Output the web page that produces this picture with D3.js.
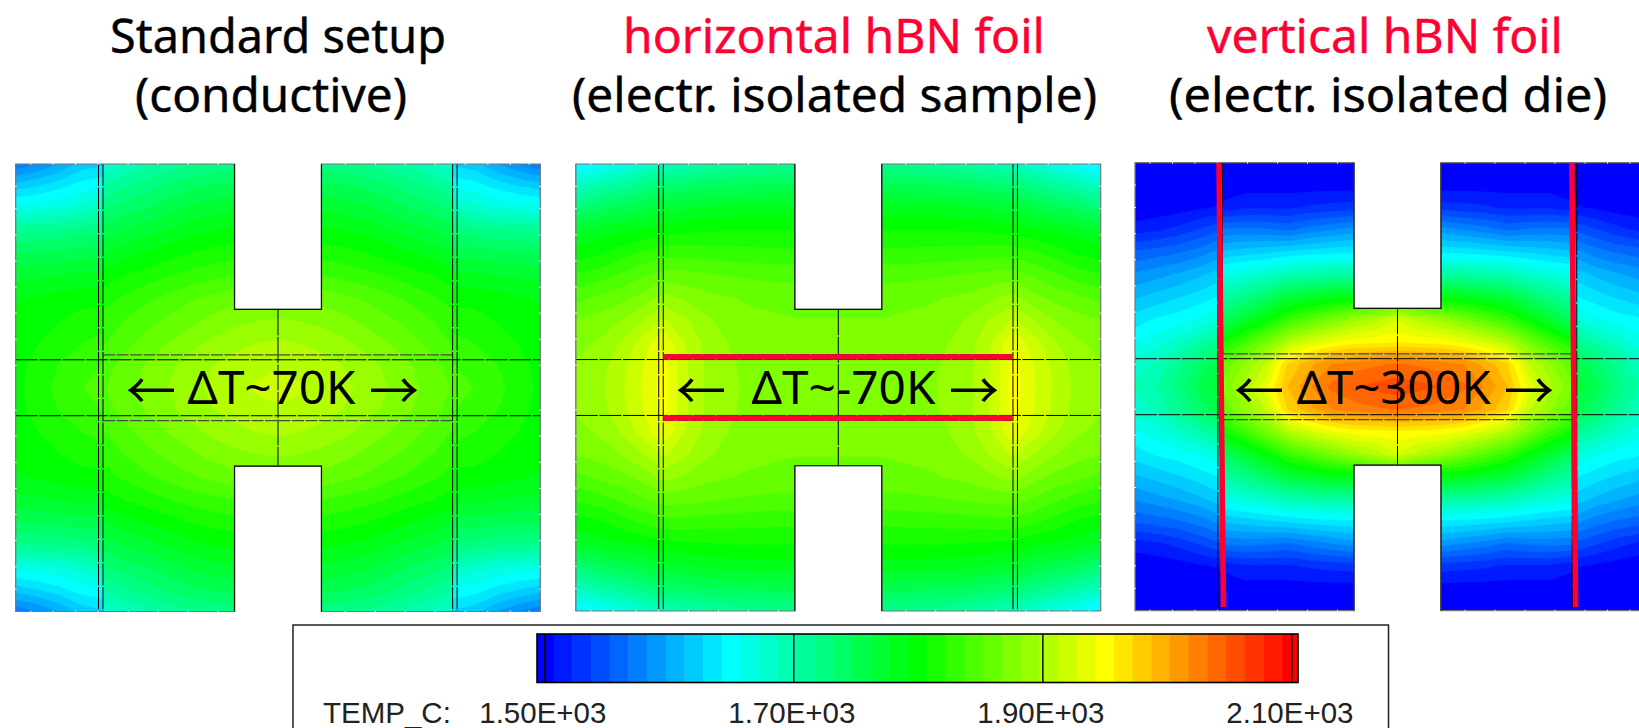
<!DOCTYPE html>
<html>
<head>
<meta charset="utf-8">
<script src="https://cdn.jsdelivr.net/npm/d3@7"></script>
<style>
  html, body { margin: 0; padding: 0; background: #fff; overflow: hidden; }
  svg { display: block; }
  text { fill: #000; }
</style>
</head>
<body>
<script>
/////////////////////////////////////////////////
// data - temperature in deg C
// one quarter of each specimen, rows go top edge -> centre,
// columns go outer edge -> centre (the other quarters are mirrored)
// column 4 sits on the die/sample interface, its value here is the inner
// side, the ...Outer arrays hold the outer side where the field jumps
/////////////////////////////////////////////////
var standardTemp = [
  [1570,1582,1597,1618,1675,1688,1698,1708,1715,1720,1722,1724,1724],
  [1620,1628,1638,1650,1705,1716,1726,1736,1744,1750,1752,1754,1754],
  [1665,1668,1672,1680,1730,1740,1748,1758,1766,1772,1775,1776,1776],
  [1715,1718,1720,1726,1755,1764,1772,1780,1788,1793,1796,1798,1798],
  [1748,1750,1752,1756,1778,1786,1794,1801,1808,1813,1816,1818,1818],
  [1772,1775,1778,1782,1800,1808,1815,1822,1828,1833,1838,1842,1845],
  [1790,1794,1798,1802,1816,1825,1834,1842,1850,1856,1862,1866,1868],
  [1797,1802,1807,1813,1828,1838,1848,1856,1864,1872,1878,1882,1884],
  [1800,1807,1814,1822,1836,1848,1858,1868,1877,1886,1892,1897,1900],
  [1802,1813,1823,1833,1846,1858,1869,1879,1889,1897,1905,1909,1911],
  [1803,1816,1827,1837,1851,1861,1873,1883,1893,1901,1909,1914,1917]
];
var standardOuter = [1625,1655,1692,1728,1758,1782,1802,1816,1828,1838,1843];

var horizontalTemp = [
  [1640,1650,1660,1675,1688,1695,1702,1708,1712,1715,1716,1716,1716],
  [1685,1700,1710,1722,1735,1740,1745,1748,1750,1752,1753,1753,1753],
  [1730,1745,1752,1760,1772,1775,1780,1783,1785,1786,1786,1786,1786],
  [1775,1785,1790,1795,1802,1805,1806,1808,1808,1808,1808,1808,1808],
  [1800,1805,1815,1825,1832,1832,1830,1829,1828,1827,1826,1826,1826],
  [1825,1830,1840,1850,1860,1858,1855,1852,1850,1848,1848,1848,1848],
  [1848,1855,1862,1872,1888,1880,1872,1868,1865,1863,1862,1862,1862],
  [1868,1873,1882,1896,1915,1900,1885,1876,1872,1870,1868,1868,1868],
  [1878,1884,1898,1918,1940,1912,1892,1882,1876,1874,1872,1872,1872],
  [1884,1890,1906,1926,1948,1915,1894,1885,1878,1875,1874,1873,1873],
  [1886,1892,1908,1928,1950,1915,1894,1886,1879,1876,1875,1874,1874]
];

var verticalTemp = [
  [1490,1490,1490,1490,1490,1490,1490,1490,1490,1490,1490,1490,1490],
  [1490,1490,1492,1495,1495,1500,1500,1500,1500,1500,1500,1500,1500],
  [1495,1497,1500,1505,1512,1520,1520,1520,1525,1528,1530,1532,1532],
  [1515,1520,1528,1540,1570,1572,1570,1565,1575,1582,1590,1592,1592],
  [1555,1560,1566,1575,1615,1620,1625,1630,1635,1638,1640,1640,1640],
  [1585,1592,1600,1610,1665,1672,1682,1695,1700,1705,1705,1708,1708],
  [1610,1618,1626,1635,1705,1720,1742,1765,1775,1785,1790,1800,1810],
  [1635,1645,1650,1660,1745,1770,1798,1830,1850,1870,1890,1905,1925],
  [1655,1665,1682,1700,1805,1835,1868,1905,1925,1940,1950,1952,1955],
  [1680,1690,1715,1740,1855,1885,1915,1975,1998,2018,2025,2030,2034],
  [1690,1702,1725,1755,1870,1900,1938,1988,2016,2036,2047,2052,2056]
];
var verticalOuter = [1490,1497,1510,1552,1590,1622,1645,1675,1720,1760,1772];

var titleTop    = ["Standard setup", "horizontal hBN foil", "vertical hBN foil"];
var titleBottom = ["(conductive)", "(electr. isolated sample)", "(electr. isolated die)"];
var deltaLabels = ["\u0394T~70K", "\u0394T~-70K", "\u0394T~300K"];

var legendName   = "TEMP_C:";
var legendValues = [1500, 1700, 1900, 2100];
var legendLabels = ["1.50E+03", "1.70E+03", "1.90E+03", "2.10E+03"];

// rainbow stops of the colour bar
var colorStops = [1500, 1650, 1800, 1950, 2100];
var colorNames = ["#0000ff", "#00ffff", "#00ff00", "#ffff00", "#ff0000"];

// specimen geometry in mm, measured from the centre
var notchHalfWidth  = 5.8,
    notchHalfHeight = 10.5;
var interfaceX      = 23.35;
var meshVertical    = [-23.95, -23.35, 23.3, 23.9];
var meshHorizontal  = [-3.75, 3.75];
var ghostHorizontal = [-4.4, 4.4];
var edgeTicksX = [-33, -30, -27, -24, -20, -16, -12, -8, 9, 13, 17, 21, 25, 28, 31, 33.5];
var edgeTicksY = [-27, -24, -20.5, -17, -13.5, -10, -6.5, -3, 3, 6.5, 10, 13.5, 17, 20.5, 24, 27];

/////////////////////////////////////////////////
// locals
/////////////////////////////////////////////////
var width  = 1639,
    height = 728;

var halfW = 35,
    halfH = 30;

var panels = [
  { temp: standardTemp,   outer: standardOuter, x0: 15.7,   x1: 540.3,  y0: 164,   y1: 611.5, titleX: [110, 135],  titleW: [336, 272],
    arrows: [126, 369], textX: 187.5, textW: 168 },
  { temp: horizontalTemp, outer: null,          x0: 575.9,  x1: 1100.7, y0: 164,   y1: 611,   titleX: [623, 572],  titleW: [422, 525],
    arrows: [676, 949], textX: 751.5, textW: 184 },
  { temp: verticalTemp,   outer: verticalOuter, x0: 1135,   x1: 1660,   y0: 162.7, y1: 610.7, titleX: [1207, 1169], titleW: [356, 438],
    arrows: [1234, 1504], textX: 1296.7, textW: 194 }
];

var uiFont = "'Noto Sans', 'Open Sans', sans-serif";

var colorOf = d3.scaleLinear().domain(colorStops).range(colorNames).clamp(true);

var bandStep   = 15,
    thresholds = d3.range(1492.5, 2100, bandStep);

/////////////////////////////////////////////////
// mirror - expand a quarter table to the flat whole grid
/////////////////////////////////////////////////
function mirror(quarter) {
  var rows = quarter.length,
      cols = quarter[0].length,
      out  = [];
  for (var r = 0; r < 2 * rows - 1; r++) {
    var row = quarter[r < rows ? r : 2 * rows - 2 - r];
    for (var c = 0; c < 2 * cols - 1; c++) {
      out.push(row[c < cols ? c : 2 * cols - 2 - c]);
    }
  }
  return out;
}

var svg = d3.select("body").append("svg")
  .attr("width", width)
  .attr("height", height);

var defs = svg.append("defs");

/////////////////////////////////////////////////
// drawBands - stacked contour bands of one table into a group
/////////////////////////////////////////////////
function drawBands(group, table, path) {
  var cols = table[0].length * 2 - 1,
      rows = table.length * 2 - 1;
  var contours = d3.contours().size([cols, rows]).thresholds(thresholds)(mirror(table));

  group.selectAll("path").data(contours).enter().append("path")
    .attr("d", path)
    .attr("fill", function(d) { return colorOf(d.value + bandStep / 2); })
    .attr("stroke", function(d) { return colorOf(d.value + bandStep / 2); })
    .attr("stroke-width", 0.5);
}

/////////////////////////////////////////////////
// drawPanel - temperature field, mesh lines, foils and labels of one setup
/////////////////////////////////////////////////
function drawPanel(p, i) {
  var x = d3.scaleLinear().domain([-halfW, halfW]).range([p.x0, p.x1]);
  var y = d3.scaleLinear().domain([-halfH, halfH]).range([p.y0, p.y1]);

  var line = d3.line().x(function(d) { return x(d[0]); }).y(function(d) { return y(d[1]); });

  var nw = notchHalfWidth, nh = notchHalfHeight;
  var outline = [
    [-halfW, -halfH], [-nw, -halfH], [-nw, -nh], [nw, -nh], [nw, -halfH], [halfW, -halfH],
    [halfW, halfH], [nw, halfH], [nw, nh], [-nw, nh], [-nw, halfH], [-halfW, halfH]
  ];

  defs.append("clipPath").attr("id", "clip" + i)
    .append("path").attr("d", line(outline) + "Z");

  var g = svg.append("g");
  var field = g.append("g").attr("clip-path", "url(#clip" + i + ")");

  field.append("rect")
    .attr("x", p.x0).attr("y", p.y0)
    .attr("width", p.x1 - p.x0).attr("height", p.y1 - p.y0)
    .attr("fill", colorOf(colorStops[0]));

  var gx = d3.scaleLinear().domain([0, p.temp[0].length * 2 - 2]).range([-halfW, halfW]);
  var gy = d3.scaleLinear().domain([0, p.temp.length * 2 - 2]).range([-halfH, halfH]);

  var path = d3.geoPath(d3.geoTransform({
    point: function(a, b) { this.stream.point(x(gx(a - 0.5)), y(gy(b - 0.5))); }
  }));

  if (p.outer) {
    // field jumps across the die/sample interface, so two layers
    var innerId = "inner" + i,
        outerId = "outer" + i;
    var ix0 = x(-interfaceX), ix1 = x(interfaceX);

    defs.append("clipPath").attr("id", innerId)
      .append("rect").attr("x", ix0).attr("y", p.y0).attr("width", ix1 - ix0).attr("height", p.y1 - p.y0);
    var oc = defs.append("clipPath").attr("id", outerId);
    oc.append("rect").attr("x", p.x0).attr("y", p.y0).attr("width", ix0 - p.x0).attr("height", p.y1 - p.y0);
    oc.append("rect").attr("x", ix1).attr("y", p.y0).attr("width", p.x1 - ix1).attr("height", p.y1 - p.y0);

    var outerTable = p.temp.map(function(row, r) {
      var copy = row.slice();
      copy[4] = p.outer[r];
      return copy;
    });
    drawBands(field.append("g").attr("clip-path", "url(#" + outerId + ")"), outerTable, path);
    drawBands(field.append("g").attr("clip-path", "url(#" + innerId + ")"), p.temp, path);
  } else {
    drawBands(field.append("g"), p.temp, path);
  }

  // mesh lines
  var mesh = g.append("g").attr("fill", "none");

  mesh.selectAll("line.ghost").data(ghostHorizontal).enter().append("line")
    .attr("class", "ghost")
    .attr("x1", x(-23.35)).attr("x2", x(23.3))
    .attr("y1", y).attr("y2", y)
    .attr("stroke", "#4a4a4a").attr("stroke-width", 1.3).attr("stroke-dasharray", "12,1.5");

  mesh.selectAll("line.h").data(meshHorizontal).enter().append("line")
    .attr("class", "h")
    .attr("x1", x(-halfW)).attr("x2", x(halfW))
    .attr("y1", y).attr("y2", y)
    .attr("stroke", "#000").attr("stroke-width", 1).attr("stroke-dasharray", "22,1.5");

  mesh.selectAll("line.v").data(meshVertical).enter().append("line")
    .attr("class", "v")
    .attr("x1", x).attr("x2", x)
    .attr("y1", y(-halfH)).attr("y2", y(halfH))
    .attr("stroke", "#000").attr("stroke-width", 1).attr("stroke-dasharray", "22,1.5");

  mesh.append("line")
    .attr("x1", x(0)).attr("x2", x(0))
    .attr("y1", y(-nh)).attr("y2", y(nh))
    .attr("stroke", "#000").attr("stroke-width", 1).attr("stroke-dasharray", "26,1.5");

  // specimen outline, grey with dark notches like the original
  g.append("path")
    .attr("d", line(outline) + "Z")
    .attr("fill", "none")
    .attr("stroke", "#777")
    .attr("stroke-width", 1.2);

  g.append("path")
    .attr("d", line([[-nw, -halfH], [-nw, -nh], [nw, -nh], [nw, -halfH]]) + line([[-nw, halfH], [-nw, nh], [nw, nh], [nw, halfH]]))
    .attr("fill", "none")
    .attr("stroke", "#111")
    .attr("stroke-width", 1.2);

  // small white ticks along the outer edge
  var ticks = g.append("g").attr("stroke", "#e8e8e8").attr("stroke-width", 1);
  [-halfH, halfH].forEach(function(edge) {
    ticks.selectAll(null).data(edgeTicksX).enter().append("line")
      .attr("x1", x).attr("x2", x)
      .attr("y1", y(edge) - 1).attr("y2", y(edge) + 1);
  });
  [-halfW, halfW].forEach(function(edge) {
    ticks.selectAll(null).data(edgeTicksY).enter().append("line")
      .attr("y1", y).attr("y2", y)
      .attr("x1", x(edge) - 1).attr("x2", x(edge) + 1);
  });

  // hBN foils
  if (i === 1) {
    g.selectAll("line.foil").data([-4.1, 4.1]).enter().append("line")
      .attr("class", "foil")
      .attr("x1", x(-23.3)).attr("x2", x(23.2))
      .attr("y1", y).attr("y2", y)
      .attr("stroke", "#ff0033").attr("stroke-width", 5.6);
  }
  if (i === 2) {
    g.selectAll("line.foil").data([[-23.8, -23.2], [23.25, 23.75]]).enter().append("line")
      .attr("class", "foil")
      .attr("x1", function(d) { return x(d[0]); }).attr("x2", function(d) { return x(d[1]); })
      .attr("y1", y(-halfH)).attr("y2", y(halfH - 0.5))
      .attr("stroke", "#ff0033").attr("stroke-width", 5.5);
  }

  // titles
  g.append("text")
    .attr("x", p.titleX[0]).attr("y", 53)
    .attr("textLength", p.titleW[0]).attr("lengthAdjust", "spacingAndGlyphs")
    .style("font", "47px " + uiFont)
    .style("fill", i === 0 ? "#000" : "#ff0033")
    .style("stroke", i === 0 ? "#000" : "#ff0033")
    .style("stroke-width", 0.4)
    .text(titleTop[i]);

  g.append("text")
    .attr("x", p.titleX[1]).attr("y", 112)
    .attr("textLength", p.titleW[1]).attr("lengthAdjust", "spacingAndGlyphs")
    .style("font", "47px " + uiFont)
    .style("stroke", "#000")
    .style("stroke-width", 0.4)
    .text(titleBottom[i]);

  // delta T label with its arrows
  g.append("text")
    .attr("x", p.textX).attr("y", 404)
    .attr("textLength", p.textW).attr("lengthAdjust", "spacingAndGlyphs")
    .style("font", "46px " + uiFont)
    .text(deltaLabels[i]);

  g.selectAll("text.arrow").data(["\u2190", "\u2192"]).enter().append("text")
    .attr("class", "arrow")
    .attr("x", function(d, k) { return p.arrows[k]; })
    .attr("y", 409)
    .attr("textLength", 50).attr("lengthAdjust", "spacingAndGlyphs")
    .style("font", "50px 'Noto Sans CJK SC'")
    .text(function(d) { return d; });
}

panels.forEach(drawPanel);

/////////////////////////////////////////////////
// legend box with the colour bar
/////////////////////////////////////////////////
var legend = svg.append("g");

legend.append("rect")
  .attr("x", 293).attr("y", 625)
  .attr("width", 1095.5).attr("height", 140)
  .attr("fill", "#fff")
  .attr("stroke", "#222")
  .attr("stroke-width", 1.5);

var legendScale = d3.scaleLinear().domain([1500, 2100]).range([544.3, 1291.4]);

var barLeft   = 537,
    barRight  = 1298,
    barTop    = 634,
    barBottom = 682.5;

defs.append("clipPath").attr("id", "barClip")
  .append("rect")
  .attr("x", barLeft).attr("y", barTop)
  .attr("width", barRight - barLeft).attr("height", barBottom - barTop);

var barBands = thresholds.concat([thresholds[thresholds.length - 1] + bandStep]);

legend.append("g").attr("clip-path", "url(#barClip)")
  .selectAll("rect").data(d3.pairs(barBands)).enter().append("rect")
  .attr("x", function(d) { return legendScale(d[0]); })
  .attr("width", function(d) { return legendScale(d[1]) - legendScale(d[0]) + 0.5; })
  .attr("y", barTop)
  .attr("height", barBottom - barTop)
  .attr("fill", function(d) { return colorOf((d[0] + d[1]) / 2); });

var legendAxis = d3.axisBottom(legendScale)
  .tickValues(legendValues)
  .tickSize(barTop - barBottom)
  .tickPadding(19.5)
  .tickFormat(function(d, i) { return legendLabels[i]; });

var axisG = legend.append("g")
  .attr("transform", "translate(0," + barBottom + ")")
  .call(legendAxis);

axisG.select(".domain").remove();
axisG.selectAll("line").attr("stroke", "#000").attr("stroke-width", 1.4);
axisG.selectAll("text")
  .attr("dx", -2)
  .style("font", "29.5px 'Liberation Sans'")
  .style("fill", "#222");

legend.append("rect")
  .attr("x", barLeft).attr("y", barTop)
  .attr("width", barRight - barLeft).attr("height", barBottom - barTop)
  .attr("fill", "none")
  .attr("stroke", "#000")
  .attr("stroke-width", 1.6);

legend.append("text")
  .attr("x", 323).attr("y", 723)
  .style("font", "29.5px 'Liberation Sans'")
  .style("fill", "#222")
  .text(legendName);
</script>
</body>
</html>
